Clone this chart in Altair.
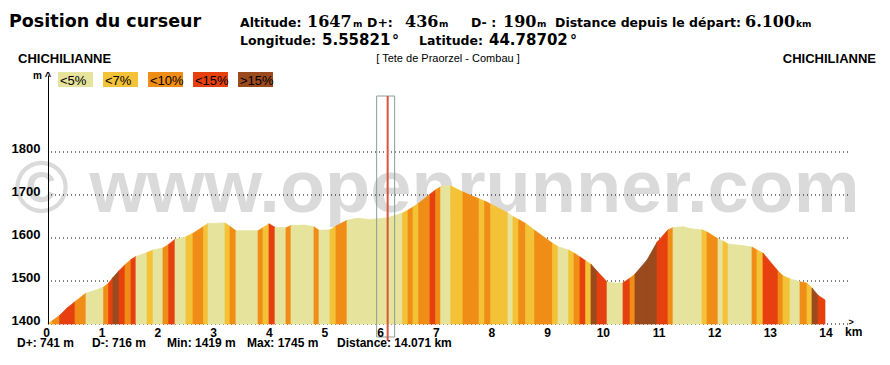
import altair as alt
import pandas as pd

# ---------------- data ----------------
# profile outline: distance (km) and altitude (m) at each colour-band edge
dist_km = [0.000, 0.081, 0.208, 0.341, 0.485, 0.682, 0.844, 0.999, 1.088, 1.167,
           1.275, 1.383, 1.491, 1.580, 1.778, 1.886, 2.065, 2.166, 2.281, 2.478,
           2.604, 2.795, 2.874, 3.179, 3.269, 3.376, 3.772, 3.861, 3.969, 4.077,
           4.274, 4.364, 4.616, 4.777, 4.867, 5.065, 5.172, 5.370, 5.550, 5.783,
           6.100, 6.367, 6.466, 6.555, 6.656, 6.861, 6.963, 7.053, 7.148, 7.232,
           7.453, 7.741, 7.841, 7.951, 8.261, 8.351, 8.452, 8.579, 8.739, 9.061,
           9.159, 9.350, 9.447, 9.555, 9.657, 9.752, 9.860, 10.040, 10.183, 10.327,
           10.453, 10.542, 10.758, 10.938, 11.135, 11.225, 11.405, 11.584, 11.746, 11.836,
           12.033, 12.123, 12.213, 12.428, 12.644, 12.733, 12.841, 13.111, 13.200, 13.326,
           13.506, 13.631, 13.721, 13.829, 13.955]
elev_m = [1402, 1408, 1420, 1437, 1452, 1472, 1478, 1486, 1495, 1508,
          1524, 1538, 1550, 1557, 1566, 1572, 1577, 1585, 1597, 1603,
          1611, 1627, 1634, 1635, 1627, 1617, 1617, 1624, 1633, 1625,
          1624, 1629, 1630, 1626, 1618, 1619, 1628, 1641, 1646, 1643,
          1647, 1658, 1665, 1672, 1681, 1702, 1712, 1719, 1722, 1721,
          1707, 1691, 1686, 1679, 1658, 1650, 1643, 1634, 1618, 1588,
          1580, 1572, 1565, 1556, 1547, 1539, 1523, 1498, 1495, 1496,
          1507, 1516, 1549, 1590, 1619, 1624, 1626, 1621, 1619, 1614,
          1598, 1593, 1586, 1583, 1579, 1572, 1565, 1523, 1512, 1505,
          1498, 1495, 1484, 1467, 1456]
# slope class of each interval between two outline points (index in slope_labels)
slope_class = [1, 2, 3, 3, 2, 0, 0, 2, 3, 4,
               3, 2, 3, 0, 1, 0, 2, 3, 0, 1,
               2, 1, 0, 1, 2, 0, 2, 1, 3, 0,
               2, 0, 0, 2, 0, 1, 2, 0, 0, 0,
               0, 1, 2, 1, 2, 3, 2, 0, 0, 1,
               2, 1, 2, 1, 0, 1, 2, 1, 2, 1,
               0, 1, 2, 3, 1, 4, 3, 0, 0, 3,
               2, 4, 4, 3, 2, 0, 0, 0, 1, 2,
               0, 1, 0, 0, 2, 1, 3, 2, 1, 0,
               2, 1, 4, 3]

slope_labels = ["<5%", "<7%", "<10%", "<15%", ">15%"]
slope_colors = ["#e6e39c", "#f4c237", "#f08d16", "#e7400f", "#9a4a1d"]

y_ticks = [1400, 1500, 1600, 1700, 1800]
x_ticks = list(range(15))

cursor_km = 6.1
cursor_alt = 1647
cursor_dplus = 436
cursor_dminus = 190
cursor_lon = "5.55821"
cursor_lat = "44.78702"
start_name = "CHICHILIANNE"
end_name = "CHICHILIANNE"
route_name = "[ Tete de Praorzel - Combau ]"
total_dplus = 741
total_dminus = 716
alt_min = 1419
alt_max = 1745
total_km = "14.071"

# ---------------- layout ----------------
X0, Y0 = 48, 75          # page position of plot origin (top-left)
W, H = 800, 249
SANS = "DejaVu Sans"
SERIF = "DejaVu Serif"
LIB = "Liberation Sans"

rows = []
for i, c in enumerate(slope_class):
    for j in (i, i + 1):
        rows.append({"seg": i, "km": dist_km[j], "alt": elev_m[j], "cls": slope_labels[c]})
prof = pd.DataFrame(rows)

xs = alt.Scale(domain=[0, W / 55.68], nice=False, zero=False)
ys = alt.Scale(domain=[1400, 1400 + H / 0.43], nice=False, zero=False)
cs = alt.Scale(domain=slope_labels, range=slope_colors)

xaxis = alt.Axis(values=x_ticks, grid=False, ticks=False, tickSize=0, domain=False,
                 labelFont=LIB, labelFontWeight="bold", labelFontSize=12, labelColor="black",
                 labelPadding=3, labelOffset=-2, labelFlush=False, labelOverlap=False,
                 title=None, zindex=1)
yaxis = alt.Axis(values=y_ticks, grid=False, ticks=False, tickSize=0, domain=True,
                 domainColor="black", domainWidth=1, format="d",
                 labelFont=LIB, labelFontWeight="bold", labelFontSize=13, labelColor="black",
                 labelPadding=8, labelOffset=-3.5, labelFlush=False, labelOverlap=False,
                 title=None, zindex=1)

one = pd.DataFrame({"a": [0]})

wm = alt.Chart(one).mark_text(text="\u00a9 www.openrunner.com", font=LIB, fontWeight="bold",
                              fontSize=74, color="#dadada", align="center",
                              baseline="alphabetic").encode(
    x=alt.value(437 - X0), y=alt.value(212 - Y0))

grid = alt.Chart(pd.DataFrame({"g": y_ticks})).mark_rule(
    color="black", strokeDash=[1, 3], strokeWidth=1).encode(
    y=alt.Y("g:Q", scale=ys, axis=yaxis))

area = alt.Chart(prof).mark_area(strokeWidth=0.7, interpolate="linear").encode(
    x=alt.X("km:Q", scale=xs, axis=xaxis),
    y=alt.Y("alt:Q", scale=ys, axis=yaxis),
    y2=alt.datum(1400),
    color=alt.Color("cls:N", scale=cs, legend=None),
    stroke=alt.Stroke("cls:N", scale=cs, legend=None),
    detail="seg:N",
)

cur_df = pd.DataFrame({"km": [cursor_km]})
cur_box = alt.Chart(cur_df).mark_rect(filled=False, stroke="#8b9b9b", strokeWidth=1,
                                      xOffset=-11, x2Offset=7).encode(
    x=alt.X("km:Q", scale=xs, axis=xaxis), x2="km:Q",
    y=alt.value(96 - Y0), y2=alt.value(337 - Y0))
cur_line = alt.Chart(cur_df).mark_rule(color="#d6553c", strokeWidth=2).encode(
    x=alt.X("km:Q", scale=xs, axis=xaxis), y=alt.value(96 - Y0), y2=alt.value(341 - Y0))


def txt(s, px, py, size, font=SANS, weight="bold", align="left", color="black"):
    return alt.Chart(one).mark_text(text=s, font=font, fontWeight=weight, fontSize=size,
                                    align=align, baseline="alphabetic", color=color).encode(
        x=alt.value(px - X0), y=alt.value(py - Y0))


texts = [
    txt("Position du curseur", 9, 27, 17.5),
    txt("Altitude:", 240, 27, 12.5),
    txt(str(cursor_alt), 307, 27, 16, SERIF),
    txt("m", 353, 27, 9),
    txt("D+:", 367, 27, 12.5),
    txt(str(cursor_dplus), 405, 27, 16, SERIF),
    txt("m", 439, 27, 9),
    txt("D- :", 471, 27, 12.5),
    txt(str(cursor_dminus), 503, 27, 16, SERIF),
    txt("m", 537, 27, 9),
    txt("Distance depuis le départ:", 555, 27, 12.5),
    txt(f"{cursor_km:.3f}", 745, 27, 16, SERIF),
    txt("km", 796, 27, 9),
    txt("Longitude:", 240, 45, 12.5),
    txt(cursor_lon, 322, 45, 15),
    txt("\u00b0", 392, 45, 14),
    txt("Latitude:", 419, 45, 12.5),
    txt(cursor_lat, 489, 45, 15),
    txt("\u00b0", 570, 45, 14),
    txt(start_name, 18, 63, 13, LIB),
    txt(end_name, 876, 63, 13, LIB, align="right"),
    txt(route_name, 448, 62, 11, LIB, weight="normal", align="center"),
    txt("m", 33, 79, 10, LIB),
    txt("^", 48, 80, 11, LIB, align="center"),
    txt(">", 851, 325, 9, LIB, align="center"),
    txt("km", 845, 336, 12, LIB),
    txt(f"D+: {total_dplus} m", 17, 347, 12, LIB),
    txt(f"D-: {total_dminus} m", 92, 347, 12, LIB),
    txt(f"Min: {alt_min} m", 167, 347, 12, LIB),
    txt(f"Max: {alt_max} m", 247, 347, 12, LIB),
    txt(f"Distance: {total_km} km", 337, 347, 12, LIB),
]

legend = []
for i, (lab, col) in enumerate(zip(slope_labels, slope_colors)):
    lx = 58 + 45 * i
    legend.append(alt.Chart(one).mark_rect(color=col).encode(
        x=alt.value(lx - X0), x2=alt.value(lx + 35 - X0),
        y=alt.value(72 - Y0), y2=alt.value(87 - Y0)))
    legend.append(txt(lab, lx + 2, 85, 13, LIB, weight="normal"))

chart = alt.layer(wm, grid, area, cur_box, cur_line, *texts, *legend).properties(
    width=W, height=H,
    padding={"left": X0 - 8, "top": Y0 - 8, "right": 874 - (X0 - 8) - W, "bottom": 25},
    autosize=alt.AutoSizeParams(type="none"),
    background="white",
).configure_view(stroke=None)

chart.save("out.html", embed_options={"renderer": "svg", "actions": False})
